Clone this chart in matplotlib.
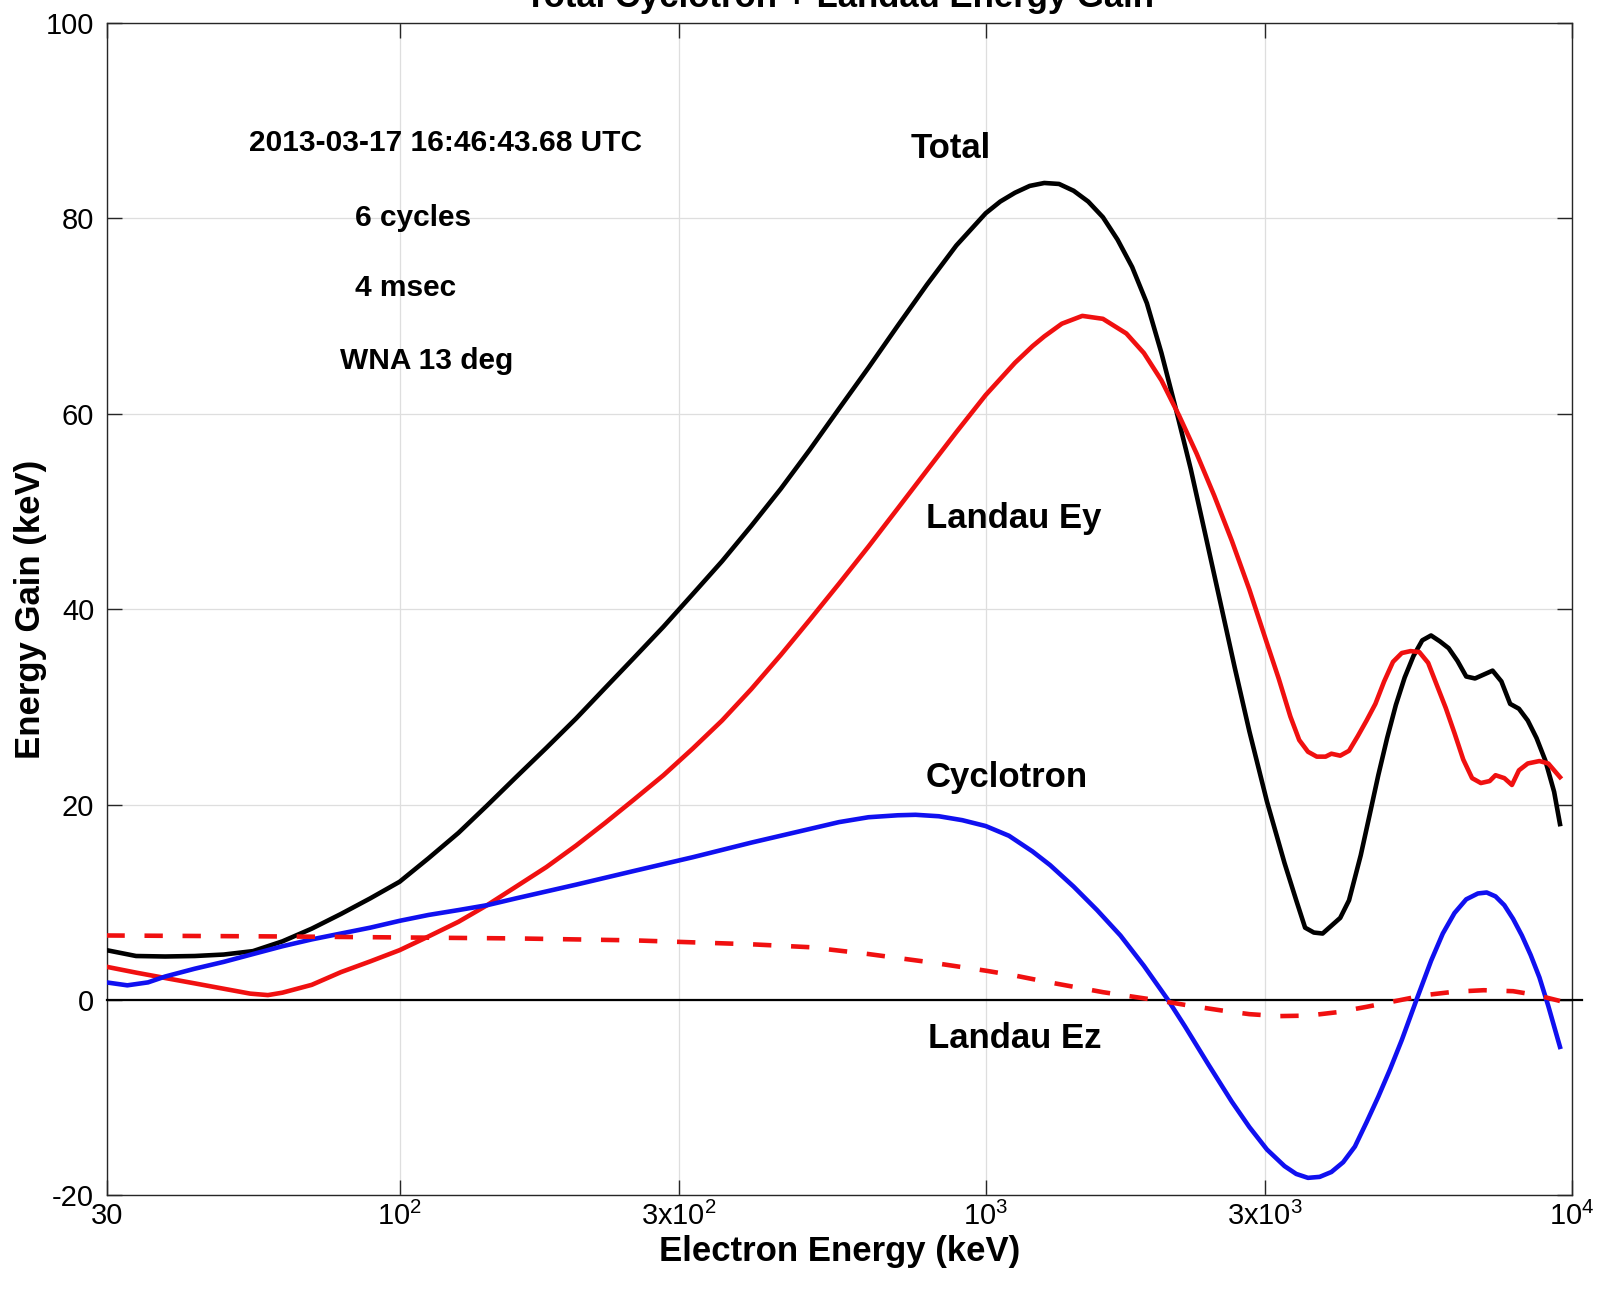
"""Total cyclotron + Landau energy gain vs electron energy."""
import matplotlib
matplotlib.use("Agg")
import matplotlib.pyplot as plt

plt.rcParams["font.family"] = ["Liberation Sans", "DejaVu Sans"]
plt.rcParams["mathtext.fontset"] = "custom"
plt.rcParams["mathtext.rm"] = "Liberation Sans"
plt.rcParams["mathtext.default"] = "regular"
plt.rcParams["axes.unicode_minus"] = False

BLACK = "#000000"
RED = "#f01010"
BLUE = "#1010f0"
GRID = "#dedede"
AXIS = "#262626"

# --- data (energy in keV, gain in keV) ---
total_e = [31.6, 35.5, 39.8, 44.7, 50.1, 56.2, 63.1, 70.8, 79.4, 89.1, 100,
           112, 126, 141, 158, 178, 200, 224, 251, 282, 316, 355, 398, 447,
           501, 562, 631, 708, 794, 891, 1000, 1059, 1122, 1189, 1259, 1334,
           1413, 1496, 1585, 1679, 1778, 1884, 1995, 2113, 2239, 2371, 2512,
           2661, 2818, 3020, 3236, 3388, 3508, 3631, 3758, 3890, 4027, 4169,
           4365, 4519, 4677, 4842, 5012, 5188, 5370, 5559, 5754, 5957, 6166,
           6383, 6607, 6839, 7079, 7328, 7586, 7852, 8128, 8414, 8710, 9016,
           9333, 9550]
total_gain = [5.1, 4.5, 4.45, 4.5, 4.65, 5.0, 6.0, 7.3, 8.8, 10.4, 12.1,
              14.5, 17.1, 19.9, 22.8, 25.8, 28.8, 31.9, 35.0, 38.2, 41.5, 44.9,
              48.5, 52.3, 56.3, 60.5, 64.7, 69.0, 73.2, 77.2, 80.5, 81.7, 82.6,
              83.3, 83.6, 83.5, 82.8, 81.7, 80.1, 77.8, 75.0, 71.3, 66.2, 60.4,
              54.3, 47.6, 40.8, 34.0, 27.5, 20.3, 14.0, 10.2, 7.4, 6.9, 6.8,
              7.6, 8.4, 10.2, 14.8, 18.9, 23.0, 26.8, 30.2, 33.0, 35.2, 36.8,
              37.3, 36.7, 36.0, 34.7, 33.1, 32.9, 33.3, 33.7, 32.6, 30.3, 29.8,
              28.6, 26.8, 24.5, 21.3, 18.0]

ey_e = [31.6, 35.5, 39.8, 44.7, 50.1, 55.6, 59.6, 63.1, 70.8, 79.4, 89.1, 100,
        112, 126, 141, 158, 178, 200, 224, 251, 282, 316, 355, 398, 447, 501,
        562, 631, 708, 794, 891, 1000, 1122, 1202, 1259, 1349, 1462, 1585,
        1738, 1862, 1995, 2138, 2291, 2455, 2630, 2818, 3020, 3162, 3311, 3428,
        3548, 3673, 3802, 3890, 4027, 4169, 4315, 4467, 4624, 4786, 4955, 5129,
        5309, 5495, 5689, 5888, 6095, 6310, 6531, 6761, 6998, 7244, 7413, 7674,
        7907, 8128, 8414, 8810, 9120, 9550]
ey_gain = [3.4, 2.8, 2.25, 1.7, 1.15, 0.65, 0.5, 0.75, 1.55, 2.85, 3.95, 5.1,
           6.5, 8.0, 9.7, 11.6, 13.6, 15.8, 18.1, 20.5, 23.0, 25.7, 28.6, 31.8,
           35.3, 38.9, 42.6, 46.4, 50.3, 54.2, 58.1, 61.9, 65.2, 66.9, 67.9,
           69.2, 70.0, 69.7, 68.2, 66.2, 63.4, 59.8, 55.9, 51.6, 47.0, 42.0,
           36.5, 32.9, 29.0, 26.6, 25.4, 24.9, 24.9, 25.2, 25.0, 25.5, 27.0,
           28.6, 30.3, 32.6, 34.6, 35.5, 35.7, 35.6, 34.5, 32.2, 29.9, 27.3,
           24.6, 22.7, 22.2, 22.4, 23.0, 22.7, 22.0, 23.5, 24.2, 24.45, 24.2,
           22.8]

cyc_e = [31.6, 34.3, 37.2, 39.8, 44.7, 50.1, 56.2, 63.1, 70.8, 79.4, 89.1, 100,
         112, 126, 141, 158, 200, 251, 316, 398, 501, 562, 631, 708, 759, 832,
         912, 1000, 1096, 1202, 1288, 1413, 1549, 1698, 1862, 2042, 2188, 2399,
         2630, 2818, 3020, 3236, 3388, 3548, 3715, 3890, 4074, 4266, 4467,
         4677, 4898, 5129, 5433, 5754, 6026, 6310, 6607, 6918, 7161, 7413,
         7674, 7943, 8222, 8511, 8810, 9120, 9550]
cyc_gain = [1.8, 1.5, 1.8, 2.4, 3.2, 3.9, 4.7, 5.5, 6.2, 6.8, 7.4, 8.1, 8.7,
            9.2, 9.7, 10.4, 11.8, 13.2, 14.6, 16.1, 17.5, 18.2, 18.7, 18.9,
            18.95, 18.8, 18.4, 17.8, 16.8, 15.2, 13.8, 11.6, 9.2, 6.6, 3.5, 0.1,
            -2.7, -6.6, -10.4, -13.0, -15.3, -17.0, -17.8, -18.2, -18.1, -17.6,
            -16.6, -15.0, -12.5, -9.9, -7.1, -4.1, 0.0, 4.0, 6.8, 8.9, 10.3,
            10.9, 11.0, 10.6, 9.7, 8.3, 6.6, 4.6, 2.3, -0.6, -4.8]

ez_e = [31.6, 63.1, 100, 158, 251, 316, 398, 501, 631, 794, 1000, 1122, 1259,
        1413, 1585, 1778, 1995, 2239, 2512, 2818, 3162, 3548, 3981, 4467, 5012,
        5623, 6310, 7079, 7943, 8710, 9550]
ez_gain = [6.6, 6.5, 6.4, 6.3, 6.1, 5.9, 5.7, 5.4, 4.7, 3.9, 3.0, 2.5, 1.9,
           1.35, 0.8, 0.35, -0.1, -0.6, -1.05, -1.45, -1.65, -1.6, -1.25, -0.7,
           -0.1, 0.5, 0.85, 1.0, 0.9, 0.5, -0.1]

x_ticks = [10 ** 1.5, 1e2, 3e2, 1e3, 3e3, 1e4]
x_tick_labels = ["30", "10$^{2}$", "3x10$^{2}$", "10$^{3}$", "3x10$^{3}$",
                 "10$^{4}$"]
y_ticks = [-20, 0, 20, 40, 60, 80, 100]

# (text, energy, gain)
info_lines = [
    ("2013-03-17 16:46:43.68 UTC", 119.6, 86.9),
    ("6 cycles", 105.3, 79.2),
    ("4 msec", 102.4, 72.0),
    ("WNA 13 deg", 111.4, 64.6),
]
curve_labels = [
    ("Total", 872, 86.2),
    ("Landau Ey", 1118, 48.3),
    ("Cyclotron", 1085, 21.8),
    ("Landau Ez", 1123, -4.9),
]

fig = plt.figure(figsize=(16.01, 12.97), dpi=100)
fig.patch.set_facecolor("white")
ax = fig.add_axes([0.0666, 0.0783, 0.9151, 0.9042])

ax.set_xscale("log")
ax.set_xlim(10 ** 1.5, 1e4)
ax.set_ylim(-20, 100)

ax.grid(True, which="major", color=GRID, linewidth=0.9)
ax.minorticks_off()
ax.set_axisbelow(True)

# zero reference line runs a little past the right frame
ax.axhline(0, xmin=0, xmax=1.007, color=BLACK, linewidth=1.6, clip_on=False,
           zorder=3)

ax.plot(total_e, total_gain, color=BLACK, linewidth=3.3, zorder=4)
ax.plot(ey_e, ey_gain, color=RED, linewidth=3.3, zorder=4)
ax.plot(cyc_e, cyc_gain, color=BLUE, linewidth=3.3, zorder=4)
ax.plot(ez_e, ez_gain, color=RED, linewidth=3.3, dashes=(4.0, 4.3), zorder=4)

for txt, xe, yg in info_lines:
    ax.text(xe, yg, txt, ha="center", va="baseline", fontsize=21.5,
            fontweight="bold", color=BLACK)
for txt, xe, yg in curve_labels:
    ax.text(xe, yg, txt, ha="center", va="baseline", fontsize=25,
            fontweight="bold", color=BLACK)

ax.set_xticks(x_ticks)
ax.set_xticklabels(x_tick_labels)
ax.set_yticks(y_ticks)
ax.tick_params(which="both", direction="in", top=True, right=True,
               length=10.5, width=1, color=AXIS, labelsize=21,
               labelcolor=BLACK)
ax.tick_params(axis="y", pad=9)
ax.tick_params(axis="x", pad=4.5)
for spine in ax.spines.values():
    spine.set_color(AXIS)
    spine.set_linewidth(1)

ax.set_xlabel("Electron Energy (keV)", fontsize=25, fontweight="bold",
              labelpad=3)
ax.set_ylabel("Energy Gain (keV)", fontsize=25, fontweight="bold",
              labelpad=-1)
ax.set_title("Total Cyclotron + Landau Energy Gain", fontsize=25,
             fontweight="bold", pad=11)

fig.savefig("out.png", dpi=100, facecolor="white")
plt.close(fig)
